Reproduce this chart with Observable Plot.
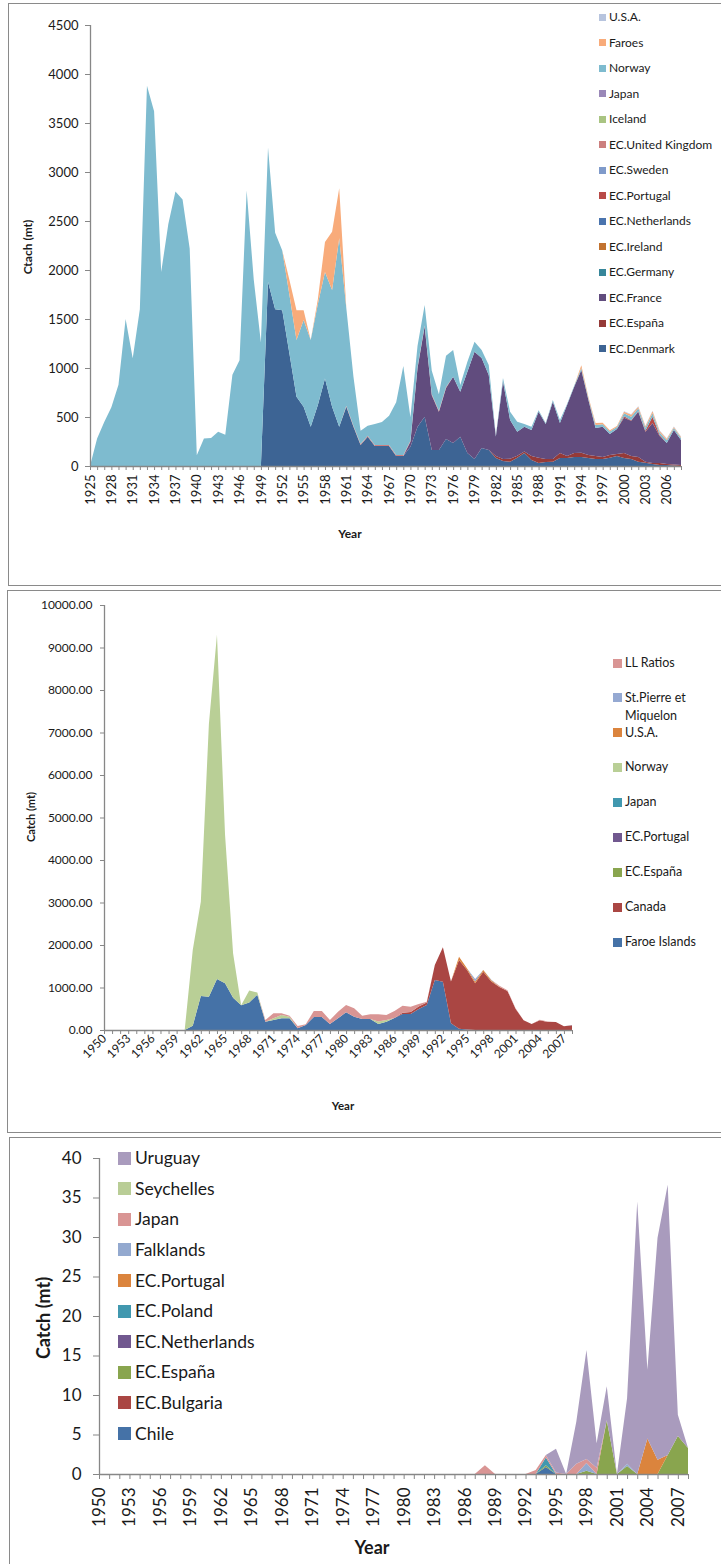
<!DOCTYPE html>
<html><head><meta charset="utf-8">
<script src="https://cdn.jsdelivr.net/npm/d3@7"></script>
<script src="https://cdn.jsdelivr.net/npm/@observablehq/plot@0.6"></script>
<style>
html,body{margin:0;padding:0;background:#fff;}
body{width:721px;height:1564px;position:relative;overflow:hidden;font-family:Lato,"Liberation Sans",sans-serif;color:#1a1a1a;}
.frame{position:absolute;border:1px solid #8a8a8a;pointer-events:none;}
.chart{position:absolute;left:0;}
.lab{position:absolute;white-space:nowrap;line-height:1;}
.sw{position:absolute;}
.b{font-weight:bold;}
</style></head><body>
<div class="frame" style="left:8px;top:3px;width:740px;height:581px"></div>
<div class="frame" style="left:7px;top:590px;width:740px;height:541px"></div>
<div class="frame" style="left:9px;top:1137px;width:740px;height:460px"></div>
<div id="c1" class="chart" style="top:0px"></div>
<div id="c2" class="chart" style="top:590px"></div>
<div id="c3" class="chart" style="top:1137px"></div>
<script>
// ---------------- Panel 1 data (1925-2008) ----------------
const years1 = d3.range(1925, 2009);
const names1 = ["EC.Denmark","EC.España","EC.France","EC.Germany","EC.Ireland","EC.Netherlands","EC.Portugal","EC.Sweden","EC.United Kingdom","Iceland","Japan","Norway","Faroes","U.S.A."];
const colors1 = ["#3d6494","#953a38","#614c7e","#36869a","#c2722f","#4a74ae","#b84a47","#7f9aca","#cc7f7e","#a9c482","#9a88b8","#7ebbcf","#f8ab7a","#b7c4de"];
// values start at the year given in the comment
const norway1 = [0,280,450,600,830,1500,1100,1600,3880,3620,1980,2470,2800,2720,2220,110,280,285,350,320,930,1080,2810,1900,1260,1370,780,610,600,578,885,884,1030,1086,1190,1924,995,500,136,102,214,234,299,538,908,240,217,210,240,170,320,272,68,102,102,82,102,10,37,85,102,27,34,15,10,17,31,10,10,20,15,30,25,25,20,30,35,30,30,35,25,30,20,20]; // 1925
const denmark1 = [0,1880,1600,1590,1150,707,605,401,622,894,605,401,605,400,214,299,204,204,204,102,102,197,400,503,163,163,275,234,299,133,71,184,163,82,51,44,85,133,61,31,41,44,82,82,92,92,82,71,71,85,102,82,71,44,34,20,10,10,5,0]; // 1949
const france1 = [50,600,920,560,390,520,677,459,829,1095,917,765,200,790,395,245,253,266,469,357,585,305,520,676,843,561,286,309,214,254,360,360,462,306,408,276,214,352,255]; // 1970
const espana1 = [20,20,30,20,15,40,54,30,27,51,20,41,44,30,31,21,27,21,51,31,48,10,10,20,10,10,10]; // 1982
const portugal1 = [15,5,5,10,65,10,0,0,0]; // 2000
const uk1 = [10,10,10,10,10,10,10,10,10,10,10,10,10,10,10]; // 1961
const faroes1 = [0,150,305,100,0,50,305,595,510,0]; // 1952
const faroesLate1 = [30,15,20,15,15,10,15,20,15,15,20,15,15,10,10]; // 1994
const usa1 = [5,5,5,5,5,5,5,5,5]; // 2000

// ---------------- Panel 2 data (1950-2008) ----------------
const years2 = d3.range(1950, 2009);
const names2 = ["Faroe Islands","Canada","EC.España","EC.Portugal","Japan","Norway","U.S.A.","St.Pierre et Miquelon","LL Ratios"];
const colors2 = ["#4572a7","#aa4643","#89a54e","#71588f","#4198af","#b9cf96","#db843d","#95a9d2","#d99594"];
const faroe2 = [0,100,800,780,1200,1100,760,580,650,830,196,235,274,274,39,118,306,306,141,274,415,314,259,259,141,196,282,376,376,494,588,1176,1137,160,30,10]; // 1960
const canada2 = [30,50,60,60,353,810,980,1620,1400,1100,1370,1140,1010,920,500,230,140,230,190,190,90,110]; // 1987
const norway2 = [1780,2220,6420,8100,3500,1040,0,280,50,0,40,80,40,0,0,0,0,0,0,0,0,0,0,60,40]; // 1961
const ll2 = [40,118,38,23,55,15,141,141,94,157,173,196,78,111,169,117,165,166,123,58,18,0,0,0,0,0,0,0,0,20,15,10,0,0,10,10,0,0,0]; // 1970
const usa2 = [75,40,40,40,30,10]; // 1994
const stp2 = [60,0,10,0,0,0,0,0,0,0,0,0,10]; // 1996

// ---------------- Panel 3 data (1950-2008) ----------------
const years3 = d3.range(1950, 2009);
const names3 = ["Chile","EC.Bulgaria","EC.España","EC.Netherlands","EC.Poland","EC.Portugal","Falklands","Japan","Seychelles","Uruguay"];
const colors3 = ["#4572a7","#aa4643","#89a54e","#71588f","#4198af","#db843d","#93a9cf","#d99594","#b9cd96","#a99bbd"];
// values from 1987
const japan3 =    [0,1.1,0,0,0,0,0.5,0.3,0.2,0,1.3,0.5,0.8,0,0,0,0,0,0,0,0,0];
const chile3 =    [0,0,0,0,0,0,0,0.9,0,0,0,0,0,0,0,0,0,0,0,0,0,0];
const espana3 =   [0,0,0,0,0,0,0,0.2,0,0,0,0.4,0,6.8,0,1.0,0,0,0,2.4,4.8,3.3];
const poland3 =   [0,0,0,0,0,0,0,1.0,0,0,0,0,0,0,0,0,0,0,0,0,0,0];
const portugal3 = [0,0,0,0,0,0,0,0,0,0,0,0,0,0,0,0,0,4.5,1.8,0,0,0];
const falk3 =     [0,0,0,0,0,0,0,0,0,0,0,1.0,0,0,0,0.3,0,0,0,0,0,0];
const uruguay3 =  [0,0,0,0,0,0,0,0,3.0,0,5.3,13.8,3.1,4.3,0,8.3,34.5,8.7,28.1,34.2,2.7,0];

function tidy(years, defs) {
  const out = [];
  for (const [name, parts] of defs) {
    for (const yr of years) {
      let v = 0;
      for (const [start, vals] of parts) {
        const i = yr - start;
        if (i >= 0 && i < vals.length) v += vals[i];
      }
      out.push({year: yr, series: name, value: v});
    }
  }
  return out;
}

const data1 = tidy(years1, [
  ["EC.Denmark", [[1949, denmark1]]],
  ["EC.España", [[1982, espana1]]],
  ["EC.France", [[1970, france1]]],
  ["EC.Germany", []],["EC.Ireland", []],["EC.Netherlands", []],
  ["EC.Portugal", [[2000, portugal1]]],
  ["EC.Sweden", []],
  ["EC.United Kingdom", [[1961, uk1]]],
  ["Iceland", []],["Japan", []],
  ["Norway", [[1925, norway1]]],
  ["Faroes", [[1952, faroes1],[1994, faroesLate1]]],
  ["U.S.A.", [[2000, usa1]]]
]);
const data2 = tidy(years2, [
  ["Faroe Islands", [[1960, faroe2]]],
  ["Canada", [[1987, canada2]]],
  ["EC.España", []],["EC.Portugal", []],["Japan", []],
  ["Norway", [[1961, norway2]]],
  ["U.S.A.", [[1994, usa2]]],
  ["St.Pierre et Miquelon", [[1996, stp2]]],
  ["LL Ratios", [[1970, ll2]]]
]);
const data3 = tidy(years3, [
  ["Chile", [[1987, chile3]]],
  ["EC.Bulgaria", []],
  ["EC.España", [[1987, espana3]]],
  ["EC.Netherlands", []],
  ["EC.Poland", [[1987, poland3]]],
  ["EC.Portugal", [[1987, portugal3]]],
  ["Falklands", [[1987, falk3]]],
  ["Japan", [[1987, japan3]]],
  ["Seychelles", []],
  ["Uruguay", [[1987, uruguay3]]]
]);

const FONT = "Lato, 'Liberation Sans', sans-serif";
const AX = "#878787";

function chart(o) {
  const [x0, x1] = o.xdomain;
  return Plot.plot({
    width: 721, height: o.height,
    marginLeft: o.ml, marginRight: o.mr, marginTop: o.mt, marginBottom: o.mb,
    x: {domain: o.xdomain},
    y: {domain: [0, o.ymax]},
    color: {domain: o.names, range: o.colors},
    style: {fontFamily: FONT, fontSize: o.fs + "px", background: "transparent", color: "#1a1a1a"},
    marks: [
      Plot.areaY(o.data, {x: "year", y: "value", z: "series", fill: "series", order: o.names, curve: "linear"}),
      Plot.ruleX([x0], {y1: 0, y2: o.ymax, stroke: AX, strokeWidth: 1.3}),
      Plot.ruleY([0], {stroke: AX, strokeWidth: 1.6}),
      Plot.axisY({ticks: o.yticks, tickSize: o.ytick, tickFormat: () => "", color: AX, label: null}),
      Plot.axisY({ticks: o.yticks, tickSize: 0, tickPadding: o.ytick + o.ypad, tickFormat: o.yfmt, color: "#1a1a1a", label: null}),
      Plot.axisX({ticks: d3.range(x0, x1 + 1), tickSize: o.xtick, tickFormat: () => "", color: AX, label: null}),
      Plot.axisX({ticks: d3.range(x0, x1 + 1, 3), tickSize: 0, tickPadding: o.xpad, tickRotate: o.rot, tickFormat: d => String(d), color: "#1a1a1a", label: null})
    ]
  });
}

document.getElementById("c1").append(chart({
  data: data1, names: names1, colors: colors1, xdomain: [1925, 2008], ymax: 4500,
  yticks: d3.range(0, 4501, 500), yfmt: d => String(d),
  height: 580, ml: 90, mr: 40, mt: 25, mb: 114, fs: 13, ytick: 5, ypad: 7, xtick: 4, xpad: 8, rot: -90
}));
document.getElementById("c2").append(chart({
  data: data2, names: names2, colors: colors2, xdomain: [1950, 2008], ymax: 10000,
  yticks: d3.range(0, 10001, 1000), yfmt: d3.format(".2f"),
  height: 540, ml: 104, mr: 149, mt: 15, mb: 100, fs: 12, ytick: 4, ypad: 8, xtick: 4, xpad: 6, rot: -45
}));
document.getElementById("c3").append(chart({
  data: data3, names: names3, colors: colors3, xdomain: [1950, 2008], ymax: 40,
  yticks: d3.range(0, 41, 5), yfmt: d => String(d),
  height: 427, ml: 99, mr: 33, mt: 21, mb: 90, fs: 17, ytick: 6, ypad: 12, xtick: 5, xpad: 13, rot: -90
}));

// ---------- labels & legends ----------
function label(text, x, y, size, rotate, bold) {
  const d = document.createElement("div");
  d.className = "lab" + (bold ? " b" : "");
  d.textContent = text;
  d.style.fontSize = size + "px";
  d.style.left = x + "px"; d.style.top = y + "px";
  d.style.transform = "translate(-50%,-50%)" + (rotate ? " rotate(-90deg)" : "");
  document.body.append(d);
}
label("Year", 350, 534, 12, false, true);
label("Ctach (mt)", 28, 247, 12, true, true);
label("Year", 343, 1106, 11.5, false, true);
label("Catch (mt)", 30, 817, 11, true, true);
label("Year", 372, 1547, 18, false, true);
label("Catch (mt)", 43, 1318, 18, true, true);

function legend(names, colors, o) {
  const lh = o.lh || 0;
  names.forEach((n, i) => {
    const yc = o.y0 + i * o.step;
    const s = document.createElement("div");
    s.className = "sw";
    s.style.cssText = `left:${o.sx}px;top:${yc - o.sw / 2}px;width:${o.sw}px;height:${o.sw}px;background:${colors[i]}`;
    document.body.append(s);
    const lines = o.wrap && o.wrap[n] ? o.wrap[n] : [n];
    lines.forEach((t, j) => {
      const d = document.createElement("div");
      d.className = "lab";
      d.textContent = t;
      d.style.fontSize = o.fs + "px";
      d.style.left = o.tx + "px";
      d.style.top = (yc + j * lh - o.fs * 0.5) + "px";
      document.body.append(d);
    });
  });
}
legend(names1.slice().reverse(), colors1.slice().reverse(), {y0: 17, step: 25.5, sx: 599, sw: 7, tx: 609, fs: 12});
legend(names2.slice().reverse(), colors2.slice().reverse(), {y0: 663, step: 34.9, sx: 613, sw: 9, tx: 625, fs: 12.5,
  wrap: {"St.Pierre et Miquelon": ["St.Pierre et", "Miquelon"]}, lh: 18.5});
legend(names3.slice().reverse(), colors3.slice().reverse(), {y0: 1158, step: 30.6, sx: 118, sw: 13, tx: 135, fs: 17.5});
</script>
</body></html>
